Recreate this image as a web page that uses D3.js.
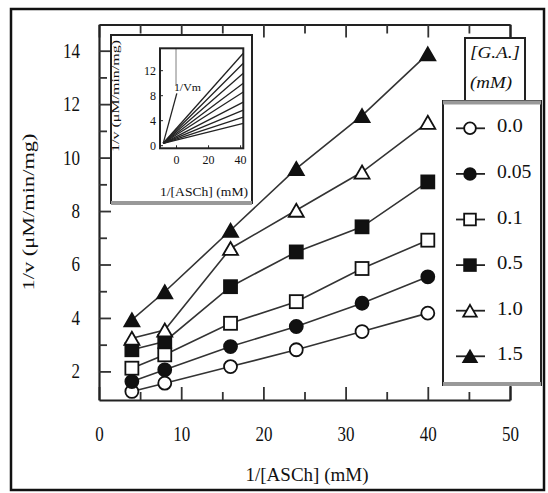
<!DOCTYPE html>
<html>
<head>
<meta charset="utf-8">
<script src="https://cdn.jsdelivr.net/npm/d3@7"></script>
<style>
  body { margin: 0; background: #fff; }
  svg { display: block; }
  text { font-family: "Liberation Serif", "DejaVu Serif", serif; fill: #111; }
</style>
</head>
<body>
<script>
// data
const xVals = [4, 8, 16, 24, 32, 40]
const ga00 = [1.25, 1.56, 2.18, 2.81, 3.49, 4.18]
const ga005 = [1.62, 2.06, 2.93, 3.68, 4.55, 5.54]
const ga01 = [2.12, 2.62, 3.80, 4.61, 5.85, 6.91]
const ga05 = [2.81, 3.12, 5.17, 6.47, 7.41, 9.09]
const ga10 = [3.24, 3.55, 6.60, 8.03, 9.46, 11.32]
const ga15 = [3.93, 4.98, 7.28, 9.59, 11.57, 13.88]
const legendLabels = ["0.0", "0.05", "0.1", "0.5", "1.0", "1.5"]
const symbolsUsed = ["circleOpen", "circleFilled", "squareOpen", "squareFilled", "triOpen", "triFilled"]
const xTickLabels = [0, 10, 20, 30, 40, 50]
const yTickLabels = [2, 4, 6, 8, 10, 12, 14]

// inset (replot) data
const insetStartX = -8
const insetStartY = 0.3
const insetEndX = 42
const insetEndY = [14.7, 13.1, 11.5, 9.9, 8.5, 6.9, 5.6, 4.5, 3.5]
const insetSteepX = [-8, 0.5]
const insetSteepY = [0.3, 8.3]
const insetYTicks = [0, 4, 8, 12]
const insetXTicks = [0, 20, 40]

const series = [ga00, ga005, ga01, ga05, ga10, ga15]

const w = 548
const h = 493

const svg = d3.select("body").append("svg")
  .attr("width", w)
  .attr("height", h)

// outer frame
svg.append("rect")
  .attr("x", 11).attr("y", 9)
  .attr("width", 533).attr("height", 481)
  .attr("fill", "white").attr("stroke", "#111").attr("stroke-width", 2.5)

const xScale = d3.scaleLinear().domain([0, 50]).range([99, 510])
const yScale = d3.scaleLinear().domain([0.93, 14.98]).range([400, 24.5])

function condense(sel, per) {
  sel.each(function () {
    const t = d3.select(this).text()
    if (t !== "") d3.select(this).attr("textLength", t.length * per).attr("lengthAdjust", "spacingAndGlyphs")
  })
}

//Axes
const xAxisB = d3.axisBottom(xScale)
  .tickValues(d3.range(0, 51, 5))
  .tickSize(-13).tickSizeOuter(0).tickPadding(27)
  .tickFormat(d => xTickLabels.includes(d) ? d : "")
const gB = svg.append("g").attr("transform", "translate(0," + yScale.range()[0] + ")").call(xAxisB)

const xAxisT = d3.axisTop(xScale)
  .tickValues(d3.range(0, 51, 5))
  .tickSize(-13).tickSizeOuter(0).tickFormat("")
const gT = svg.append("g").attr("transform", "translate(0," + yScale.range()[1] + ")").call(xAxisT)

const yAxisL = d3.axisLeft(yScale)
  .tickValues(d3.range(2, 15, 1))
  .tickSize(-12).tickSizeOuter(0).tickPadding(19)
  .tickFormat(d => yTickLabels.includes(d) ? d : "")
const gL = svg.append("g").attr("transform", "translate(" + xScale.range()[0] + ",0)").call(yAxisL)

const yAxisR = d3.axisRight(yScale)
  .tickValues(d3.range(2, 15, 1))
  .tickSize(-12).tickSizeOuter(0).tickFormat("")
const gR = svg.append("g").attr("transform", "translate(" + xScale.range()[1] + ",0)").call(yAxisR)

;[gB, gT, gL, gR].forEach(g => {
  g.select(".domain").attr("stroke", "#222").attr("stroke-width", 2.2)
  g.selectAll(".tick line").attr("stroke", "#333").attr("stroke-width", 1.8)
})
gB.selectAll(".tick").filter(d => d % 10 !== 0).select("line").attr("y2", -8)
gT.selectAll(".tick").filter(d => d % 10 !== 0).select("line").attr("y2", 9)
gL.selectAll(".tick").filter(d => d % 2 !== 0).select("line").attr("x2", 8)
gR.selectAll(".tick").filter(d => d % 2 !== 0).select("line").attr("x2", -8)
gB.selectAll("text").attr("font-size", 20).attr("font-family", "Liberation Serif").attr("fill", "#111").call(condense, 8.5)
gL.selectAll("text").attr("font-size", 20).attr("font-family", "Liberation Serif").attr("fill", "#111").call(condense, 8.5)

// axis titles
svg.append("text")
  .attr("x", 307).attr("y", 477)
  .attr("text-anchor", "middle").attr("dominant-baseline", "middle")
  .attr("font-size", 18)
  .attr("textLength", 123).attr("lengthAdjust", "spacingAndGlyphs")
  .text("1/[ASCh] (mM)")

svg.append("text")
  .attr("transform", "translate(30,212) rotate(-90)")
  .attr("text-anchor", "middle").attr("dominant-baseline", "middle")
  .attr("font-size", 17)
  .attr("textLength", 157).attr("lengthAdjust", "spacingAndGlyphs")
  .text("1/v (μM/min/mg)")

//lines and markers
const line = d3.line().x((d, i) => xScale(xVals[i])).y(d => yScale(d))

function drawSymbol(g, type, cx, cy, k) {
  const filled = type.endsWith("Filled")
  const fill = filled ? "#111" : "white"
  let el
  if (type.startsWith("circle")) {
    el = g.append("circle").attr("cx", cx).attr("cy", cy).attr("r", 6.5 * k)
  } else if (type.startsWith("square")) {
    const s = 13 * k
    el = g.append("rect").attr("x", cx - s / 2).attr("y", cy - s / 2).attr("width", s).attr("height", s)
  } else {
    const s = 15 * k, th = 13 * k
    el = g.append("path").attr("d", `M${cx},${cy - th / 2}L${cx + s / 2},${cy + th / 2}L${cx - s / 2},${cy + th / 2}Z`)
  }
  el.attr("fill", fill).attr("stroke", "#111").attr("stroke-width", 1.8)
}

const plot = svg.append("g")
series.forEach(s => {
  plot.append("path")
    .datum(s)
    .attr("d", line)
    .attr("fill", "none")
    .attr("stroke", "#333")
    .attr("stroke-width", 1.6)
})
series.forEach((s, si) => {
  s.forEach((v, i) => drawSymbol(plot, symbolsUsed[si], xScale(xVals[i]), yScale(v), 1))
})

//inset
const inset = svg.append("g")
inset.append("rect")
  .attr("x", 111).attr("y", 35).attr("width", 141).attr("height", 168)
  .attr("fill", "white").attr("stroke", "#222").attr("stroke-width", 2)
inset.append("line")
  .attr("x1", 111).attr("x2", 252).attr("y1", 203).attr("y2", 203)
  .attr("stroke", "#999").attr("stroke-width", 4)

const ix = d3.scaleLinear().domain([-10, 42]).range([160, 243.3])
const iy = d3.scaleLinear().domain([-0.5, 15.5]).range([148.3, 48.3])

inset.append("defs").append("clipPath").attr("id", "iclip")
  .append("rect").attr("x", 160).attr("y", 48.3).attr("width", 83.3).attr("height", 100)

inset.append("line")
  .attr("x1", ix(0)).attr("x2", ix(0)).attr("y1", iy(15.5)).attr("y2", iy(9.5))
  .attr("stroke", "#aaa").attr("stroke-width", 1.5)

const fan = inset.append("g").attr("clip-path", "url(#iclip)")
insetEndY.forEach(v => {
  fan.append("line")
    .attr("x1", ix(insetStartX)).attr("y1", iy(insetStartY))
    .attr("x2", ix(insetEndX)).attr("y2", iy(v))
    .attr("stroke", "#222").attr("stroke-width", 1.3)
})
fan.append("line")
  .attr("x1", ix(insetSteepX[0])).attr("y1", iy(insetSteepY[0]))
  .attr("x2", ix(insetSteepX[1])).attr("y2", iy(insetSteepY[1]))
  .attr("stroke", "#222").attr("stroke-width", 1.3)

inset.append("text")
  .attr("x", ix(-1.3)).attr("y", iy(9)).attr("dominant-baseline", "middle")
  .attr("font-size", 10)
  .attr("textLength", 27).attr("lengthAdjust", "spacingAndGlyphs")
  .text("1/Vm")

inset.append("rect")
  .attr("x", 160).attr("y", 48.3).attr("width", 83.3).attr("height", 100)
  .attr("fill", "none").attr("stroke", "#222").attr("stroke-width", 2)

const iAxL = inset.append("g").attr("transform", "translate(160,0)")
  .call(d3.axisLeft(iy).tickValues(insetYTicks).tickSize(-3).tickSizeOuter(0).tickPadding(4))
const iAxB = inset.append("g").attr("transform", "translate(0,148.3)")
  .call(d3.axisBottom(ix).tickValues(insetXTicks).tickSize(-3).tickSizeOuter(0).tickPadding(6))
;[iAxL, iAxB].forEach(g => {
  g.select(".domain").remove()
  g.selectAll(".tick line").attr("stroke", "#222")
  g.selectAll("text").attr("font-size", 13).attr("font-family", "Liberation Serif").attr("fill", "#111").call(condense, 6)
})

inset.append("text")
  .attr("x", 204).attr("y", 193)
  .attr("text-anchor", "middle").attr("dominant-baseline", "middle")
  .attr("font-size", 12)
  .attr("textLength", 88).attr("lengthAdjust", "spacingAndGlyphs")
  .text("1/[ASCh] (mM)")

inset.append("text")
  .attr("transform", "translate(117,96) rotate(-90)")
  .attr("text-anchor", "middle").attr("dominant-baseline", "middle")
  .attr("font-size", 10)
  .attr("textLength", 112).attr("lengthAdjust", "spacingAndGlyphs")
  .text("1/v (μM/min/mg)")

//legend
const gaBox = svg.append("g")
gaBox.append("rect")
  .attr("x", 465).attr("y", 38).attr("width", 60).attr("height", 63)
  .attr("fill", "white").attr("stroke", "#222").attr("stroke-width", 2)
gaBox.append("text")
  .attr("x", 470).attr("y", 54).attr("dominant-baseline", "middle")
  .attr("font-size", 16).attr("font-style", "italic")
  .attr("textLength", 50).attr("lengthAdjust", "spacingAndGlyphs")
  .text("[G.A.]")
gaBox.append("text")
  .attr("x", 470).attr("y", 84).attr("dominant-baseline", "middle")
  .attr("font-size", 16).attr("font-style", "italic")
  .attr("textLength", 42).attr("lengthAdjust", "spacingAndGlyphs")
  .text("(mM)")

const legend = svg.append("g")
legend.append("rect")
  .attr("x", 443).attr("y", 101).attr("width", 98).attr("height", 284)
  .attr("fill", "white").attr("stroke", "#222").attr("stroke-width", 2)
legend.append("line")
  .attr("x1", 443).attr("x2", 541).attr("y1", 102.5).attr("y2", 102.5)
  .attr("stroke", "#999").attr("stroke-width", 4)
legend.append("line")
  .attr("x1", 443).attr("x2", 541).attr("y1", 384).attr("y2", 384)
  .attr("stroke", "#999").attr("stroke-width", 4)

legendLabels.forEach((lab, i) => {
  const cy = 128.3 + i * 45.6
  legend.append("line")
    .attr("x1", 456).attr("x2", 485).attr("y1", cy).attr("y2", cy)
    .attr("stroke", "#222").attr("stroke-width", 1.8)
  drawSymbol(legend, symbolsUsed[i], 470, cy, 0.9)
  legend.append("text")
    .attr("x", 497).attr("y", cy).attr("dominant-baseline", "middle")
    .attr("font-size", 18)
    .attr("textLength", lab.length * 8.6).attr("lengthAdjust", "spacingAndGlyphs")
    .text(lab)
})
</script>
</body>
</html>
